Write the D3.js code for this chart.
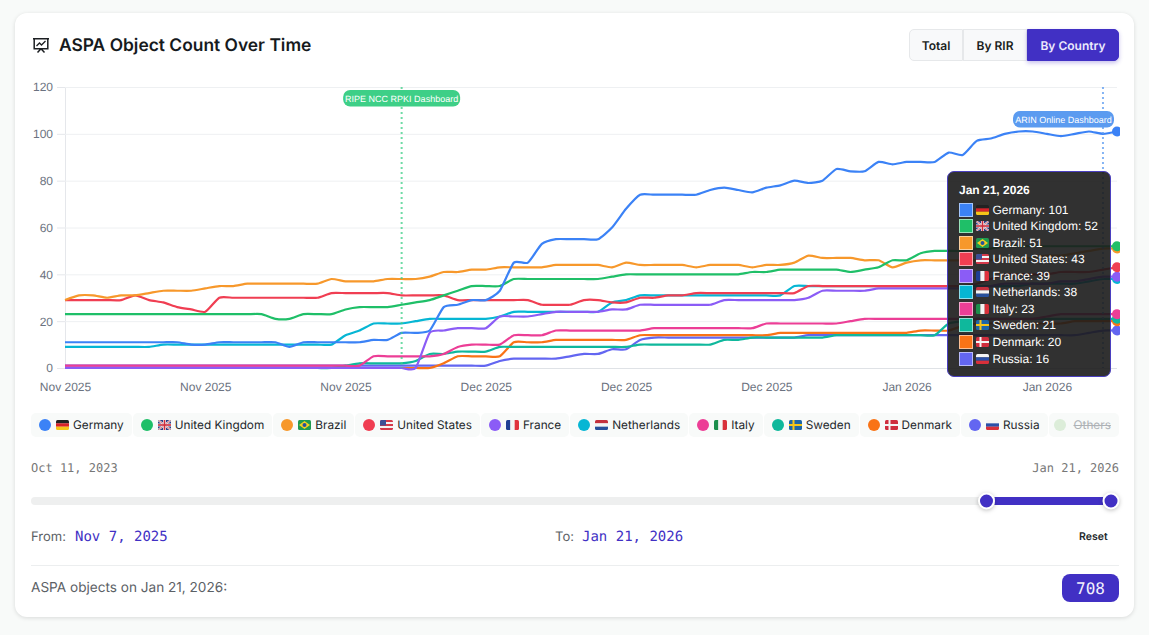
<!DOCTYPE html>
<html>
<head>
<meta charset="utf-8">
<script src="https://cdn.jsdelivr.net/npm/d3@7/dist/d3.min.js"></script>
<style>
html,body{margin:0;padding:0;width:1149px;height:635px;overflow:hidden;background:#f8faf9;font-family:Inter,sans-serif;text-rendering:geometricPrecision;}
#card{position:absolute;left:15px;top:13px;width:1119px;height:604px;background:#fff;border-radius:12px;box-shadow:0 1px 4px rgba(0,0,0,.13);}
svg#chart{position:absolute;left:0;top:0;}
.abs{position:absolute;white-space:nowrap;line-height:1;}
#title{left:59px;top:37px;font-size:17.4px;font-weight:600;color:#161a1d;}
#btns{position:absolute;left:909px;top:29px;width:210px;height:32px;display:flex;font-size:12px;font-weight:600;color:#1a1d20;box-sizing:border-box;}
#btns div{display:flex;align-items:center;justify-content:center;background:#f8f9fa;border:1px solid #e6e8ea;box-sizing:border-box;}
#btns div.on{background:#4130c4;border-color:#4130c4;color:#eceafc;box-shadow:0 2px 4px rgba(65,48,196,.3);border-radius:0 5px 5px 0;}
#legend{position:absolute;left:31px;top:413px;width:1088px;height:24px;display:flex;justify-content:space-between;font-size:11.8px;color:#24282c;white-space:nowrap;}
.chip{display:flex;align-items:center;background:#f8faf9;border-radius:5px;padding:0 8px;box-sizing:border-box;height:24px;}
.chip i{display:block;width:12px;height:12px;border-radius:50%;margin-right:5px;}
.chip svg{margin-right:4px;display:block;border-radius:1.5px;}
.chip.off{color:#aeb2b6;text-decoration:line-through;padding-left:5px;}
.chip.off i{margin-right:8px;opacity:.25;}
.mono{font-family:"DejaVu Sans Mono",monospace;}
.rangeTxt{font-size:12px;color:#777;top:462px;}
.lbl{font-size:13px;color:#5c6166;top:531px;}
.val{font-size:14px;color:#4130c4;top:530px;}
#tip{position:absolute;left:947px;top:171px;width:164px;height:206px;box-sizing:border-box;background:rgba(27,27,27,.9);border:1.5px solid #4a3fc0;border-radius:7px;font-family:"Liberation Sans",sans-serif;color:#fff;font-size:12px;}
#tip .head{position:absolute;left:11px;top:12px;font-weight:700;line-height:1;}
#tip .row{position:absolute;left:10.5px;height:14px;display:flex;align-items:center;white-space:nowrap;}
#tip .sw{width:14px;height:14px;box-sizing:border-box;border:1px solid rgba(255,255,255,.55);margin-right:3px;}
#tip .row svg{margin-right:4px;display:block;border-radius:1.5px;}
</style>
</head>
<body>
<div id="card"></div>
<svg id="chart" width="1149" height="635"></svg>
<div id="title" class="abs">ASPA Object Count Over Time</div>
<div id="btns"></div>
<div id="legend"></div>
<div id="tip"></div>
<script>
// data
var startDate = new Date(2025, 10, 7);
var countries = ["Germany","United Kingdom","Brazil","United States","France","Netherlands","Italy","Sweden","Denmark","Russia"];
var flagCodes = ["de","gb","br","us","fr","nl","it","se","dk","ru"];
var colors = ["#3b82f6","#1fbf68","#f7982b","#f03e52","#8b5cf6","#06b6d4","#ec3e96","#0fb89c","#f97316","#6366f1"];
var germany = [11,11,11,11,11,11,11,11,11,10, 10,11,11,11,11,11,9,11,11,11, 11,11,12,12,15,15,16,26,27,29, 29,33,45,45,53,55,55,55,55,60, 68,74,74,74,74,74,76,77,76,75, 77,78,80,79,80,85,84,84,88,87, 88,88,88,92,91,97,98,100,101,101, 100,99,100,101,100,101];
var unitedKingdom = [23,23,23,23,23,23,23,23,23,23, 23,23,23,23,23,21,21,23,23,23, 25,26,26,26,27,28,29,31,33,35, 35,35,38,38,38,38,38,38,38,39, 40,40,40,40,40,40,40,40,40,41, 41,42,42,42,42,42,41,42,43,46, 46,49,50,50,50,51,51,52,52,52, 52,52,52,52,52,52];
var brazil = [29,31,31,30,31,31,32,33,33,33, 34,35,35,36,36,36,36,36,36,38, 37,37,37,38,38,38,39,41,41,42, 42,43,43,43,43,44,44,44,44,43, 45,44,44,44,44,43,44,44,44,43, 44,44,45,48,47,47,47,46,46,43, 45,46,46,46,46,46,46,47,47,47, 48,48,49,50,51,51];
var unitedStates = [29,29,29,29,29,31,29,28,26,25, 24,30,30,30,30,30,30,30,30,32, 32,32,32,32,31,31,31,31,29,29, 29,29,29,29,27,27,27,29,29,28, 28,30,30,31,31,32,32,32,32,32, 32,32,32,35,35,35,35,35,35,35, 35,35,35,35,35,36,38,40,40,40, 40,41,41,41,42,43];
var france = [0,0,0,0,0,0,0,0,0,0, 0,0,0,0,0,0,0,0,0,0, 0,0,0,0,0,0,15,16,17,17, 17,22,22,22,23,24,24,24,24,25, 25,27,27,27,27,27,27,29,29,29, 29,29,29,30,33,33,33,33,34,34, 34,34,34,34,34,34,35,36,36,36, 36,37,37,38,39,39];
var netherlands = [9,9,9,9,9,9,9,10,10,10, 10,10,10,10,10,10,10,10,10,10, 14,16,19,19,19,20,21,21,21,21, 21,22,24,24,24,24,24,24,24,28, 29,31,31,31,31,31,31,31,31,31, 31,31,35,35,35,35,35,35,35,35, 35,35,35,35,35,35,35,35,35,36, 36,36,36,37,38,38];
var italy = [1,1,1,1,1,1,1,1,1,1, 1,1,1,1,1,1,1,1,1,1, 1,1,5,5,5,5,5,6,9,10, 10,10,14,14,14,16,16,16,16,16, 16,16,17,17,17,17,17,17,17,17, 19,19,19,19,19,19,20,21,21,21, 21,21,21,21,21,21,21,21,21,21, 22,23,23,23,23,23];
var sweden = [0,0,0,0,0,0,0,0,0,0, 0,0,0,0,0,0,0,0,0,0, 1,2,2,2,2,3,6,6,7,7, 7,9,9,9,9,9,9,9,9,9, 9,10,10,10,10,10,10,12,12,13, 13,13,13,13,13,14,14,14,14,14, 14,14,14,19,20,21,21,21,21,21, 21,21,21,21,21,21];
var denmark = [0,0,0,0,0,0,0,0,0,0, 0,0,0,0,0,0,0,0,0,0, 0,0,0,0,0,0,0,2,5,5, 5,5,11,11,11,12,12,12,12,12, 12,14,14,14,14,14,14,14,14,14, 14,15,15,15,15,15,15,15,15,15, 15,16,16,16,18,19,19,19,19,19, 19,19,20,20,20,20];
var russia = [1,1,1,1,1,1,1,1,1,1, 1,1,1,1,1,1,1,1,1,1, 1,1,1,1,1,1,1,1,1,1, 1,3,4,4,4,4,5,6,6,8, 8,12,13,13,13,13,13,13,13,13, 13,13,13,14,14,14,14,14,14,14, 14,14,14,14,14,14,14,14,14,14, 14,14,14,15,16,16];
var seriesValues = [germany,unitedKingdom,brazil,unitedStates,france,netherlands,italy,sweden,denmark,russia];
var yTicks = [0,20,40,60,80,100,120];
var tickDays = [0,10,20,30,40,50,60,70];
var markers = [
	{name:"RIPE NCC RPKI Dashboard", day:24},
	{name:"ARIN Online Dashboard", day:74}
];
var buttons = ["Total","By RIR","By Country"];
var tooltipDate = "Jan 21, 2026";
var totalObjects = 708;
var snapshotCount = 655;
var rangeFrom = 579;
var rangeTo = 655;

function dayToDate(i){ return d3.timeDay.offset(startDate, i); }

/* flags are drawn, no emoji font on the box */
function flag(code, w, h){
	var s = '<svg width="'+w+'" height="'+h+'" viewBox="0 0 13 10">';
	var hs = function(a){ return a.map(function(c,i){return '<rect y="'+(i*10/a.length)+'" width="13" height="'+(10/a.length+.1)+'" fill="'+c+'"/>';}).join(''); };
	var vs = function(a){ return a.map(function(c,i){return '<rect x="'+(i*13/a.length)+'" width="'+(13/a.length+.1)+'" height="10" fill="'+c+'"/>';}).join(''); };
	var cross = function(bg,fg){ return '<rect width="13" height="10" fill="'+bg+'"/><rect x="3.5" width="2" height="10" fill="'+fg+'"/><rect y="4" width="13" height="2" fill="'+fg+'"/>'; };
	switch(code){
		case "de": s += hs(["#222","#d8222a","#f5c518"]); break;
		case "nl": s += hs(["#c4303d","#f4f4f4","#27509b"]); break;
		case "ru": s += hs(["#f4f4f4","#2a4fa8","#d8303a"]); break;
		case "fr": s += vs(["#1f3f94","#f4f4f4","#e0323e"]); break;
		case "it": s += vs(["#1c8f4c","#f4f4f4","#d8303a"]); break;
		case "se": s += cross("#1c66a8","#f5c518"); break;
		case "dk": s += cross("#cf2e3e","#f4f4f4"); break;
		case "gb": s += '<rect width="13" height="10" fill="#2c3f85"/><path d="M0 0L13 10M13 0L0 10" stroke="#eee" stroke-width="2"/><path d="M0 0L13 10M13 0L0 10" stroke="#cf2e3e" stroke-width=".7"/><rect x="5" width="3" height="10" fill="#eee"/><rect y="3.5" width="13" height="3" fill="#eee"/><rect x="5.7" width="1.6" height="10" fill="#cf2e3e"/><rect y="4.2" width="13" height="1.6" fill="#cf2e3e"/>'; break;
		case "br": s += '<rect width="13" height="10" fill="#1f9a50"/><path d="M6.5 1L12 5L6.5 9L1 5Z" fill="#f5d020"/><circle cx="6.5" cy="5" r="2" fill="#27509b"/>'; break;
		case "us":
			s += hs(["#d5394a","#f4f4f4","#d5394a","#f4f4f4","#d5394a"]) + '<rect width="6" height="5.5" fill="#3c4f96"/>'; break;
	}
	return s + '</svg>';
}

/* scales */
var x = d3.scaleTime().domain([startDate, dayToDate(75)]).range([65,1117]);
var y = d3.scaleLinear().domain([0,120]).range([368,87]);
var svg = d3.select('#chart');

svg.append('clipPath').attr('id','plotclip').append('rect')
	.attr('x',60).attr('y',80).attr('width',1060).attr('height',300);

// grid + axis
var yAxis = d3.axisLeft(y).tickValues(yTicks).tickSize(8).tickPadding(4);
var yg = svg.append('g').attr('transform','translate(65,0)').call(yAxis);
yg.select('.domain').attr('stroke','#e5e7eb');
yg.selectAll('.tick line').attr('stroke','#e5e7eb');
yg.selectAll('text').style('font-family','"Liberation Sans",sans-serif').style('font-size','12px').attr('fill','#6b7280');
svg.append('g').selectAll('line').data(yTicks).enter().append('line')
	.attr('x1',65).attr('x2',1117)
	.attr('y1',function(d){return y(d)+.5;}).attr('y2',function(d){return y(d)+.5;})
	.attr('stroke',function(d){return d==0?'#dfe2e6':'#eef0f2';});

var xAxis = d3.axisBottom(x).tickValues(tickDays.map(dayToDate)).tickSize(0).tickPadding(14).tickFormat(d3.timeFormat('%b %Y'));
var xg = svg.append('g').attr('transform','translate(0,368)').call(xAxis);
xg.select('.domain').remove();
xg.selectAll('text').style('font-family','"Liberation Sans",sans-serif').style('font-size','12px').attr('fill','#6b7280');

// lines, first country ends up on top
var line = d3.line()
	.x(function(d,i){return x(dayToDate(i));})
	.y(function(d){return y(d);})
	.curve(d3.curveCardinal.tension(0.4));
var plot = svg.append('g').attr('clip-path','url(#plotclip)');
var order = d3.range(seriesValues.length).reverse();
plot.selectAll('path.ln').data(order).enter().append('path')
	.attr('class','ln')
	.attr('d',function(k){return line(seriesValues[k]);})
	.attr('fill','none')
	.attr('stroke',function(k){return colors[k];})
	.attr('stroke-width',2.2)
	.attr('stroke-linejoin','round');

// annotation lines
var markerColor = ['#3ecf87','#5b9bf0'];
markers.forEach(function(m,i){
	var mx = x(dayToDate(m.day));
	svg.append('line').attr('x1',mx).attr('x2',mx).attr('y1',87).attr('y2',368)
		.attr('stroke',markerColor[i]).attr('stroke-opacity',.75).attr('stroke-width',2).attr('stroke-dasharray','2 3');
	var w = i==0?117:101, left = i==0?mx-w/2:1013, top = i==0?90:111;
	svg.append('rect').attr('x',left).attr('y',top).attr('width',w).attr('height',16.5).attr('rx',7).attr('fill',markerColor[i]);
	svg.append('text').attr('x',left+w/2).attr('y',top+11.5).attr('text-anchor','middle')
		.style('font-family','"Liberation Sans",sans-serif').style('font-size','9px').attr('fill','#fff').text(m.name);
});

// end dots
plot.selectAll('circle').data(order).enter().append('circle')
	.attr('cx',x(dayToDate(75)))
	.attr('cy',function(k){return y(seriesValues[k][75]);})
	.attr('r',5)
	.attr('fill',function(k){return colors[k];});

// title icon
var ic = svg.append('g').attr('transform','translate(33,38)').attr('fill','none').attr('stroke','#1c1f22').attr('stroke-width',1.5);
ic.append('path').attr('d','M0 .8H16M1.2 .8V10.8H14.8V.8M8 10.8L4.5 14.5M8 10.8L11.5 14.5');
ic.append('path').attr('d','M3.5 8L6.5 5L8.5 7L12.5 3').attr('stroke-width',1.3);

/* buttons */
var bw = [54,64,92];
d3.select('#btns').selectAll('div').data(buttons).enter().append('div')
	.style('width',function(d,i){return bw[i]+'px';})
	.style('border-radius',function(d,i){return i==0?'5px 0 0 5px':null;})
	.classed('on',function(d,i){return i==2;})
	.text(function(d){return d;});

/* legend */
var chips = d3.select('#legend').selectAll('.chip').data(countries).enter().append('div').attr('class','chip');
chips.append('i').style('background',function(d,i){return colors[i];});
chips.append('span').style('display','flex').html(function(d,i){return flag(flagCodes[i],13,10);});
chips.append('span').text(function(d){return d;});
var off = d3.select('#legend').append('div').attr('class','chip off');
off.append('i').style('background','#86c97a');
off.append('span').text('Others');

/* range slider */
var sx = d3.scaleLinear().domain([0,snapshotCount]).range([38,1111]);
svg.append('rect').attr('x',31).attr('y',497).attr('width',1088).attr('height',8).attr('rx',4).attr('fill','#eeefef');
svg.append('rect').attr('x',sx(rangeFrom)+8).attr('y',497).attr('width',sx(rangeTo)-sx(rangeFrom)-16).attr('height',8).attr('fill','#4130c4');
[rangeFrom,rangeTo].forEach(function(v){
	svg.append('circle').attr('cx',sx(v)).attr('cy',501).attr('r',7.5).attr('fill','#4130c4')
		.attr('stroke','#fff').attr('stroke-width',2).style('filter','drop-shadow(0 1px 2px rgba(0,0,0,.25))');
});
svg.append('line').attr('x1',31).attr('x2',1119).attr('y1',565.5).attr('y2',565.5).attr('stroke','#eceeef');

function put(txt, cls, left, top, right){
	var e = d3.select('body').append('div').attr('class','abs '+cls).text(txt);
	if(right!=null) e.style('right',right+'px'); else e.style('left',left+'px');
	if(top!=null) e.style('top',top+'px');
	return e;
}
put('Oct 11, 2023','mono rangeTxt',31);
put('Jan 21, 2026','mono rangeTxt',null,null,30);
put('From:','lbl',31);
put('Nov 7, 2025','mono val',75);
put('To:','lbl',555);
put('Jan 21, 2026','mono val',582);
put('Reset','',1079,532).style('font-size','10.5px').style('font-weight','600').style('color','#24282c');
put('ASPA objects on '+tooltipDate+':','',31,582).style('font-size','13.6px').style('color','#5c6166');
svg.append('rect').attr('x',1062).attr('y',574).attr('width',57).attr('height',28).attr('rx',8).attr('fill','#4130c4');
svg.append('text').attr('x',1090.5).attr('y',593.5).attr('text-anchor','middle').attr('fill','#f2f1fc')
	.style('font-family','"DejaVu Sans Mono",monospace').style('font-size','16px').style('font-weight','500').text(totalObjects);

/* tooltip */
var tip = d3.select('#tip');
tip.append('div').attr('class','head').text(tooltipDate);
var rowStep = d3.scaleLinear().domain([0,9]).range([30.5,179.5]);
var rows = tip.selectAll('.row').data(countries).enter().append('div').attr('class','row')
	.style('top',function(d,i){return rowStep(i)+'px';});
rows.append('div').attr('class','sw').style('background',function(d,i){return colors[i];});
rows.append('span').style('display','flex').html(function(d,i){return flag(flagCodes[i],13,10);});
rows.append('span').text(function(d,i){return d+': '+seriesValues[i][75];});
</script>
</body>
</html>
